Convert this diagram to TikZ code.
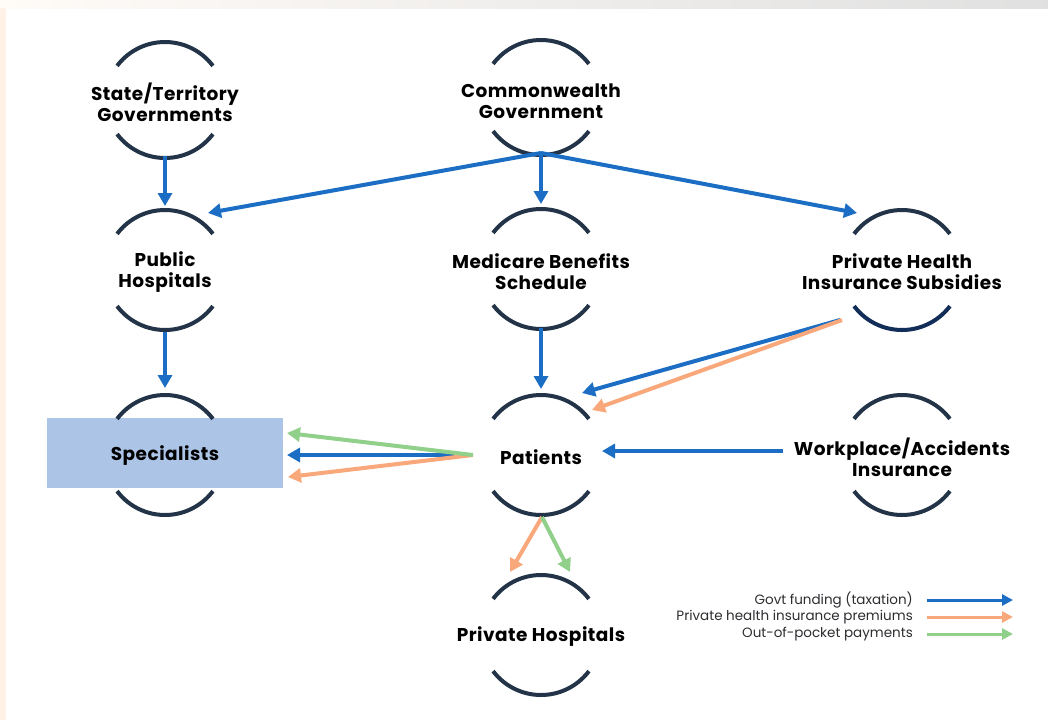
\documentclass[tikz,border=0pt]{standalone}
\usepackage{fontspec}
\setmainfont{Poppins}
\usetikzlibrary{arrows.meta}
\definecolor{arcc}{RGB}{35,52,72}
\definecolor{arcd}{RGB}{18,45,88}
\definecolor{fblue}{RGB}{27,110,196}
\definecolor{forange}{RGB}{248,168,122}
\definecolor{fgreen}{RGB}{144,208,138}
\definecolor{boxblue}{RGB}{172,196,230}
\definecolor{legtext}{RGB}{45,45,50}
\tikzset{
  hub/.style={inner sep=0pt, align=center, font=\bfseries\fontsize{18.5}{21}\selectfont\addfontfeatures{LetterSpace=2.5}, text=black},
  arcline/.style={draw=arcc, line width=4pt},
  flow/.style={line width=4pt, -{Triangle[length=13pt,width=14pt]}, shorten >=0pt},
  gov/.style={flow, draw=fblue, fill=fblue},
  prem/.style={flow, draw=forange, fill=forange},
  oop/.style={flow, draw=fgreen, fill=fgreen},
  legflow/.style={line width=3pt, -{Triangle[length=11pt,width=11pt]}},
  legtxt/.style={anchor=east, inner sep=0pt, font=\fontsize{13.5}{16}\selectfont, text=legtext}
}
\begin{document}
\begin{tikzpicture}[x=1pt,y=1pt]
\useasboundingbox (0,0) rectangle (1048,-720);
\fill[white] (0,0) rectangle (1048,-720);
\shade[left color=white!90!orange!30, right color=black!12] (0,0) rectangle (1048,-8);
\fill[red!12!orange!10] (0,-8) rectangle (6,-720);

% Specialists box
\node[fill=boxblue, minimum width=236pt, minimum height=70pt, inner sep=0pt] (specbox) at (165,-453) {};

% hubs
\node[hub] (st) at (165,-102) {State/Territory\\Governments};
\node[hub] (cw) at (541,-101) {Commonwealth\\Government};
\node[hub] (pub) at (165,-272) {Public\\Hospitals};
\node[hub] (mbs) at (541,-272) {Medicare Benefits\\Schedule};
\node[hub] (phis) at (902,-272) {Private Health\\Insurance Subsidies};
\node[hub] (spec) at (165,-456) {Specialists};
\node[hub] (pat) at (541,-457) {Patients};
\node[hub] (work) at (902,-457) {Workplace/Accidents\\Insurance};
\node[hub] (ph) at (541,-637) {Private Hospitals};

% arcs
\foreach \n/\dy in {st/0,cw/1,pub/2,mbs/3,phis/2,spec/1,pat/2,work/2,ph/2}{
  \draw[arcline] ([shift={(37:60pt)},yshift=\dy pt]\n.center) arc[start angle=37,end angle=143,radius=60pt];
}
\foreach \n/\dy in {st/4,cw/6,pub/2,mbs/3,spec/1,pat/2,work/2,ph/2}{
  \draw[arcline] ([shift={(217:60pt)},yshift=\dy pt]\n.center) arc[start angle=217,end angle=323,radius=60pt];
}
\draw[arcline, draw=arcd] ([shift={(217:60pt)},yshift=2pt]phis.center) arc[start angle=217,end angle=323,radius=60pt];

% government funding
\draw[gov] ([yshift=-54pt]st.center) -- ([yshift=66pt]pub.center);
\draw[gov] ([yshift=-52pt]cw.center) -- ([shift={(43pt,59pt)}]pub.center);
\draw[gov] ([yshift=-52pt]cw.center) -- ([yshift=68pt]mbs.center);
\draw[gov] ([yshift=-52pt]cw.center) -- ([shift={(-45pt,59pt)}]phis.center);
\draw[gov] ([yshift=-60pt]pub.center) -- ([yshift=68pt]spec.center);
\draw[gov] ([yshift=-56pt]mbs.center) -- ([yshift=68pt]pat.center);
\draw[gov] ([shift={(-62pt,-48pt)}]phis.center) -- ([shift={(41pt,64pt)}]pat.center);
\draw[prem] ([shift={(-60pt,-48pt)}]phis.center) -- ([shift={(51pt,47pt)}]pat.center);
\draw[gov] ([shift={(-119pt,6pt)}]work.center) -- ([shift={(61pt,6pt)}]pat.center);

% patients to specialists
\draw[gov] ([shift={(-68pt,2pt)}]pat.center) -- ([shift={(122pt,1pt)}]spec.center);
\draw[prem] ([shift={(-68pt,2pt)}]pat.center) -- ([shift={(123pt,-21pt)}]spec.center);
\draw[oop] ([shift={(-68pt,2pt)}]pat.center) -- ([shift={(122pt,23pt)}]spec.center);

% patients to private hospitals
\draw[prem] ([shift={(1pt,-60pt)}]pat.center) -- ([shift={(-31pt,65pt)}]ph.center);
\draw[oop] ([shift={(1pt,-60pt)}]pat.center) -- ([shift={(29pt,65pt)}]ph.center);

% legend
\node[legtxt] (lg1) at (913,-600) {Govt funding (taxation)};
\node[legtxt] (lg2) at (913,-617) {Private health insurance premiums};
\node[legtxt] (lg3) at (913,-634) {Out-of-pocket payments};
\draw[legflow, draw=fblue, fill=fblue] ([xshift=14pt]lg1.east) -- ([xshift=100pt]lg1.east);
\draw[legflow, draw=forange, fill=forange] ([xshift=14pt]lg2.east) -- ([xshift=100pt]lg2.east);
\draw[legflow, draw=fgreen, fill=fgreen] ([xshift=14pt]lg3.east) -- ([xshift=100pt]lg3.east);
\end{tikzpicture}
\end{document}
